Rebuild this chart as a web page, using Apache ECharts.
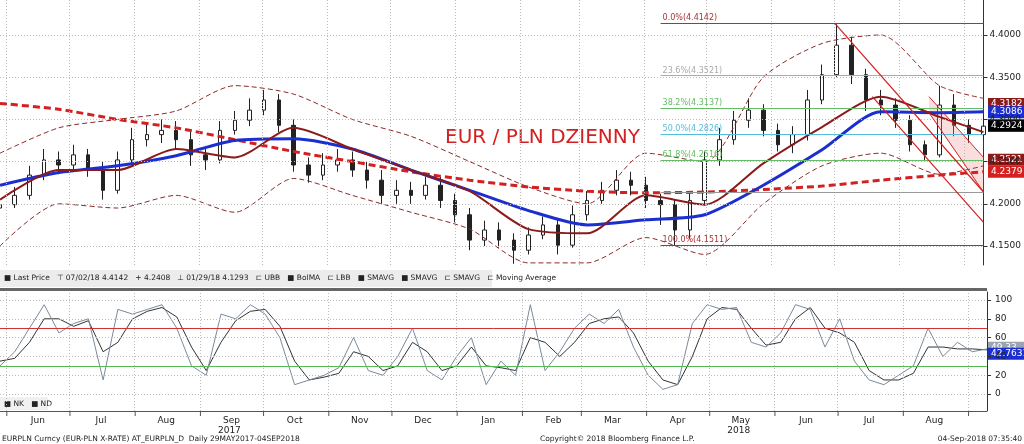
<!DOCTYPE html><html><head><meta charset="utf-8">
<script src="https://cdn.jsdelivr.net/npm/echarts@6/dist/echarts.min.js"></script>
<style>html,body{margin:0;background:#fff}#c{width:1024px;height:444px}</style></head><body><div id="c"></div>
<script>
const startDate='2017-05-29';
const closes=[4.199,4.21,4.234,4.252,4.246,4.258,4.24,4.216,4.252,4.276,4.282,4.287,4.276,4.258,4.252,4.287,4.299,4.311,4.323,4.293,4.246,4.234,4.246,4.252,4.24,4.228,4.21,4.216,4.21,4.222,4.204,4.187,4.157,4.169,4.157,4.145,4.163,4.175,4.151,4.187,4.204,4.216,4.228,4.222,4.204,4.199,4.169,4.204,4.252,4.276,4.299,4.311,4.287,4.27,4.282,4.323,4.353,4.388,4.353,4.323,4.317,4.299,4.27,4.258,4.317,4.293,4.282,4.292];
const firstOpen=4.195;
const highs=[4.21,4.22,4.245,4.265,4.262,4.27,4.265,4.25,4.262,4.29,4.295,4.3,4.298,4.285,4.265,4.298,4.31,4.325,4.335,4.33,4.3,4.255,4.26,4.265,4.262,4.25,4.24,4.228,4.226,4.232,4.232,4.212,4.195,4.18,4.178,4.165,4.172,4.185,4.182,4.198,4.215,4.226,4.24,4.238,4.232,4.212,4.205,4.215,4.262,4.29,4.31,4.325,4.318,4.295,4.292,4.335,4.365,4.414,4.398,4.36,4.335,4.325,4.305,4.275,4.34,4.33,4.3,4.305];
const lows=[4.185,4.195,4.205,4.228,4.235,4.238,4.232,4.205,4.212,4.245,4.268,4.272,4.265,4.245,4.24,4.248,4.282,4.292,4.305,4.285,4.238,4.225,4.228,4.238,4.232,4.218,4.2,4.2,4.2,4.205,4.195,4.178,4.145,4.15,4.148,4.129,4.14,4.158,4.14,4.148,4.18,4.2,4.21,4.21,4.195,4.175,4.151,4.158,4.198,4.245,4.27,4.29,4.28,4.262,4.26,4.275,4.318,4.35,4.342,4.31,4.305,4.29,4.262,4.25,4.255,4.28,4.272,4.276];
const lineIdx=[0,4,8,12,16,20,24,28,32,36,40,44,48,52,56,60,64,67];
const smaBlue=[4.222,4.237,4.245,4.257,4.275,4.277,4.265,4.24,4.216,4.192,4.175,4.181,4.187,4.222,4.264,4.309,4.308,4.309];
const bolMA=[4.205,4.24,4.24,4.265,4.255,4.29,4.265,4.24,4.215,4.17,4.165,4.21,4.199,4.248,4.291,4.327,4.303,4.285];
const ubb=[4.26,4.29,4.3,4.31,4.34,4.33,4.3,4.28,4.25,4.22,4.2,4.26,4.25,4.35,4.39,4.4,4.34,4.325];
const lbb=[4.15,4.2,4.195,4.21,4.19,4.23,4.21,4.19,4.17,4.13,4.13,4.16,4.14,4.2,4.245,4.26,4.235,4.245];
const ma200=[4.319,4.312,4.3,4.29,4.276,4.262,4.25,4.238,4.228,4.22,4.215,4.213,4.214,4.217,4.221,4.228,4.234,4.238];
const fibLevels=[4.4142,4.3521,4.3137,4.2826,4.2516,4.2135,4.1511];
const fibLabels=['0.0%(4.4142)','23.6%(4.3521)','38.2%(4.3137)','50.0%(4.2826)','61.8%(4.2516)','','100.0%(4.1511)'];
const fibColors=['#a33','#aaa','#6b6','#5bd','#6b6','#999','#a33'];
const stochK=[30,45,70,95,65,75,80,15,90,85,90,95,70,30,20,85,80,95,85,60,10,15,20,28,60,25,20,40,70,25,15,40,60,10,35,20,95,25,45,70,85,75,90,50,20,5,10,75,95,90,92,55,50,65,95,90,50,80,35,15,10,20,30,70,40,55,45,48];
const stochD=[35,38,55,80,80,72,78,45,55,80,88,92,82,50,25,55,78,88,90,72,35,15,18,22,45,40,25,30,55,45,25,30,50,30,28,25,60,55,40,55,75,80,82,65,35,15,10,40,80,92,90,70,52,55,80,92,70,65,55,25,15,15,22,50,50,48,48,47];
const priceTicks=[4.15,4.2,4.25,4.3,4.35,4.4];
const stochTicks=[0,20,40,60,80,100];
const monthNames=['Jun','Jul','Aug','Sep','Oct','Nov','Dec','Jan','Feb','Mar','Apr','May','Jun','Jul','Aug'];
const tagVals=[[4.2931,'#8b1a1a'],[4.3182,'#8b1a1a'],[4.3086,'#1b2fd0'],[4.2924,'#000'],[4.2521,'#8b1a1a'],[4.2379,'#d42020']];

const DAY=86400000, t0=Date.parse(startDate+'T00:00:00Z');
const wk=i=>t0+i*7*DAY;
const candles=closes.map((c,i)=>[wk(i),i?closes[i-1]:firstOpen,c,lows[i],highs[i]]);
const ln=a=>a.map((v,k)=>[wk(lineIdx[k]),v]);
const monthStarts=[],monthMids=[];
for(let m=0;m<16;m++){const d=Date.UTC(2017,5+m,1);monthStarts.push(d);if(m<15)monthMids.push(d+15*DAY);}
const xMin=t0,xMax=Date.UTC(2018,8,10);
const fibStart=Date.UTC(2018,3,9);
const F='DejaVu Sans';
const chart=echarts.init(document.getElementById('c'));
const xCommon={type:'time',min:xMin,max:xMax,axisLine:{show:false},axisTick:{show:false},splitLine:{show:false},axisLabel:{show:false}};
const S=0.25;
chart.setOption({animation:false,
 grid:[{left:0,right:37,top:0,height:265},{left:0,right:37,top:292,height:119}],
 xAxis:[Object.assign({gridIndex:0},xCommon),Object.assign({gridIndex:1},xCommon)],
 yAxis:[{gridIndex:0,position:'right',min:4.1275,max:4.4415,axisLine:{show:true,lineStyle:{color:'#333'}},
   axisTick:{show:true,customValues:priceTicks,length:4,lineStyle:{color:'#333'}},
   axisLabel:{customValues:priceTicks,formatter:v=>v.toFixed(4),fontFamily:F,fontSize:9,color:'#222',margin:6},splitLine:{show:false}},
  {gridIndex:1,position:'right',min:-18,max:108.5,axisLine:{show:true,lineStyle:{color:'#333'}},
   axisTick:{show:true,customValues:stochTicks,length:4},axisLabel:{customValues:stochTicks,fontFamily:F,fontSize:9,color:'#222',margin:8},splitLine:{show:false}}],
 series:[
  {type:'line',xAxisIndex:0,yAxisIndex:0,data:[],silent:true,markLine:{symbol:'none',silent:true,label:{show:false},
    lineStyle:{color:'#bbb',type:[1,2],width:1},data:priceTicks.map(v=>({yAxis:v})).concat(monthStarts.map(v=>({xAxis:v})))}},
  {type:'line',xAxisIndex:1,yAxisIndex:1,data:[],silent:true,markLine:{symbol:'none',silent:true,label:{show:false},
    lineStyle:{color:'#bbb',type:[1,2],width:1},data:stochTicks.map(v=>({yAxis:v})).concat(monthStarts.map(v=>({xAxis:v})))}},
  {type:'line',xAxisIndex:0,yAxisIndex:0,data:ln(ubb),smooth:S,symbol:'none',lineStyle:{color:'#8b2a2a',width:1,type:[5,3]}},
  {type:'line',xAxisIndex:0,yAxisIndex:0,data:ln(lbb),smooth:S,symbol:'none',lineStyle:{color:'#8b2a2a',width:1,type:[5,3]}},
  {type:'line',xAxisIndex:0,yAxisIndex:0,data:ln(ma200),smooth:S,symbol:'none',lineStyle:{color:'#d42020',width:3,type:[7,4]}},
  {type:'line',xAxisIndex:0,yAxisIndex:0,data:ln(smaBlue),smooth:S,symbol:'none',lineStyle:{color:'#1b2fd0',width:3}},
  {type:'line',xAxisIndex:0,yAxisIndex:0,data:ln(bolMA),smooth:S,symbol:'none',lineStyle:{color:'#8b1a1a',width:2}},
  {type:'candlestick',xAxisIndex:0,yAxisIndex:0,data:candles,barWidth:4,
   itemStyle:{color:'#fff',color0:'#222',borderColor:'#222',borderColor0:'#222',borderWidth:1}},
  {type:'line',xAxisIndex:0,yAxisIndex:0,data:[[Date.UTC(2018,7,15),4.308],[xMax,4.214]],stack:'ch',symbol:'none',lineStyle:{width:0},silent:true},
  {type:'line',xAxisIndex:0,yAxisIndex:0,data:[[Date.UTC(2018,7,15),0.019],[xMax,0.041]],stack:'ch',symbol:'none',lineStyle:{width:0},areaStyle:{color:'rgba(240,150,150,0.45)'},silent:true},
  {type:'line',xAxisIndex:0,yAxisIndex:0,data:[],silent:true,markLine:{symbol:'none',silent:true,
    data:fibLevels.map((v,i)=>[{coord:[fibStart,v],lineStyle:{color:fibColors[i],width:1,type:'solid'},
      label:{show:!!fibLabels[i],formatter:fibLabels[i],position:'insideStartTop',color:fibColors[i],fontFamily:F,fontSize:8,distance:[2,1]}},{coord:[xMax,v]}])
     .concat([[{coord:[Date.UTC(2018,6,1),4.4142],lineStyle:{color:'#d42020',width:1.2,type:'solid'},label:{show:false}},{coord:[xMax,4.214]}],
       [{coord:[Date.UTC(2018,6,19),4.327],lineStyle:{color:'#d42020',width:1.2,type:'solid'},label:{show:false}},{coord:[xMax,4.178]}],
       [{coord:[Date.UTC(2018,7,15),4.327],lineStyle:{color:'#d42020',width:1,type:'solid'},label:{show:false}},{coord:[xMax,4.255]}],
       [{coord:[Date.UTC(2018,7,15),4.308],lineStyle:{color:'#d42020',width:1,type:'solid'},label:{show:false}},{coord:[xMax,4.214]}]])}},
  {type:'line',xAxisIndex:1,yAxisIndex:1,data:[],silent:true,markLine:{symbol:'none',silent:true,label:{show:false},
    data:[{yAxis:70,lineStyle:{color:'#c33',width:1,type:'solid'}},{yAxis:30,lineStyle:{color:'#5b5',width:1,type:'solid'}}]}},
  {type:'line',xAxisIndex:1,yAxisIndex:1,data:stochD.map((v,i)=>[wk(i),v]),symbol:'none',lineStyle:{color:'#333',width:1}},
  {type:'line',xAxisIndex:1,yAxisIndex:1,data:stochK.map((v,i)=>[wk(i),v]),symbol:'none',lineStyle:{color:'#7a8a9a',width:1}}
 ]});
const g=[];
const yp=v=>chart.convertToPixel({yAxisIndex:0},v);
tagVals.forEach(([v,c])=>{const y=yp(v);g.push({type:'rect',shape:{x:988,y:y-6,width:36,height:12},style:{fill:c}});
 g.push({type:'text',x:991,y:y-5,style:{text:v.toFixed(4),fill:'#fff',font:'9px '+F}});});
const ys=v=>chart.convertToPixel({yAxisIndex:1},v);
[[49.33,'#9aa5b0'],[42.7631,'#1b2fd0']].forEach(([v,c])=>{const y=ys(v);g.push({type:'rect',shape:{x:988,y:y-6,width:36,height:12},style:{fill:c}});
 g.push({type:'text',x:991,y:y-5,style:{text:String(v),fill:'#fff',font:'9px '+F}});});
g.push({type:'text',x:445,y:128,style:{text:'EUR / PLN DZIENNY',fill:'#d42020',font:'20px '+F}});
g.push({type:'rect',shape:{x:0,y:270,width:492,height:17},style:{fill:'#ececec'}});
g.push({type:'rect',shape:{x:0,y:288,width:987,height:3},style:{fill:'#666'}});
g.push({type:'text',x:4,y:274,style:{text:'■ Last Price   ⊤ 07/02/18 4.4142   + 4.2408   ⊥ 01/29/18 4.1293   ⊏ UBB   ■ BolMA   ⊏ LBB   ■ SMAVG   ■ SMAVG   ⊏ SMAVG   ⊏ Moving Average',fill:'#222',font:'7.5px '+F}});
g.push({type:'rect',shape:{x:0,y:397,width:48,height:13},style:{fill:'#f0f0f0'}});
g.push({type:'text',x:4,y:400,style:{text:'■ NK   ■ ND',fill:'#222',font:'7.5px '+F}});
g.push({type:'rect',shape:{x:0,y:411,width:987,height:1},style:{fill:'#555'}});
const xp=t=>chart.convertToPixel({xAxisIndex:1},t);
monthMids.forEach((t,i)=>g.push({type:'text',x:xp(t),y:416,style:{text:monthNames[i],fill:'#222',font:'9px '+F,align:'center'}}));
monthStarts.forEach(t=>g.push({type:'rect',shape:{x:xp(t),y:411,width:1,height:5},style:{fill:'#555'}}));
g.push({type:'text',x:xp(Date.UTC(2017,8,15)),y:426,style:{text:'2017',fill:'#222',font:'9px '+F,align:'center'}});
g.push({type:'text',x:xp(Date.UTC(2018,4,15)),y:426,style:{text:'2018',fill:'#222',font:'9px '+F,align:'center'}});
g.push({type:'text',x:2,y:435,style:{text:'EURPLN Curncy (EUR-PLN X-RATE) AT_EURPLN_D  Daily 29MAY2017-04SEP2018',fill:'#222',font:'7.5px '+F}});
g.push({type:'text',x:540,y:435,style:{text:'Copyright© 2018 Bloomberg Finance L.P.',fill:'#222',font:'7.5px '+F}});
g.push({type:'text',x:1022,y:435,style:{text:'04-Sep-2018 07:35:40',fill:'#222',font:'7.5px '+F,align:'right'}});
chart.setOption({graphic:g});
</script></body></html>
